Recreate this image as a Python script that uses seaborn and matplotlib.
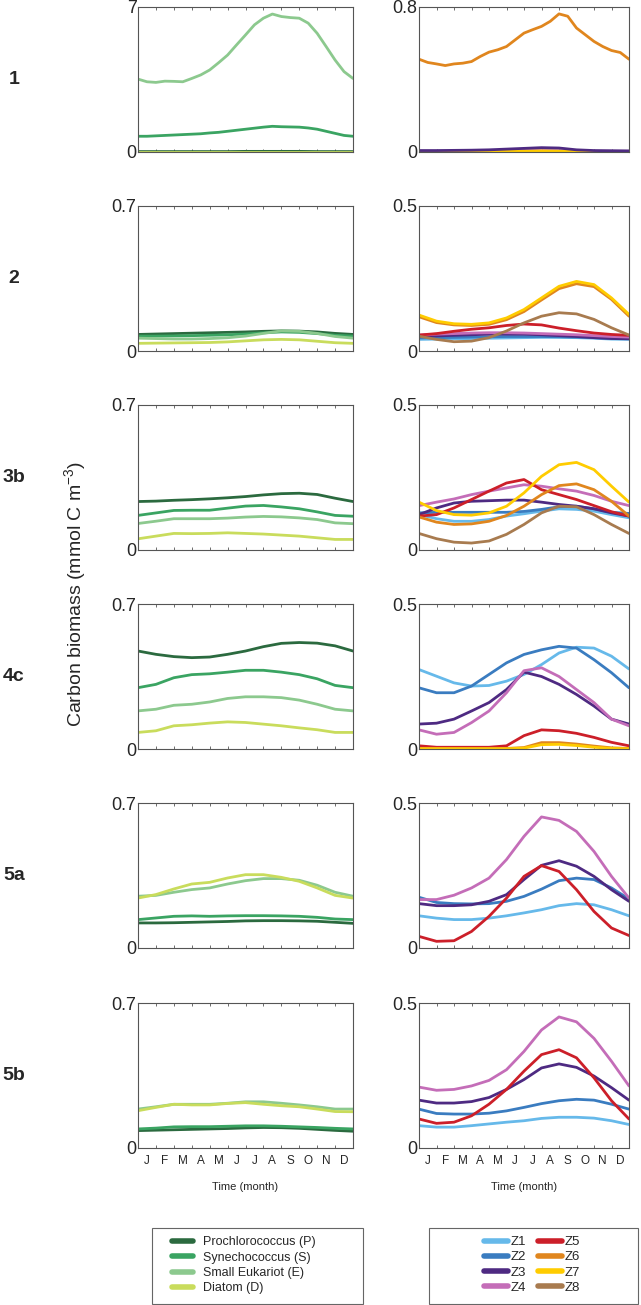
import numpy as np
import matplotlib
matplotlib.use("Agg")
import matplotlib.pyplot as plt
from matplotlib.lines import Line2D
from matplotlib.patches import Rectangle
import seaborn as sns

# ==========================================================
# DATA
# ==========================================================

months = np.arange(13)          # month boundaries J..D
half_months = np.arange(25) / 2  # finer sampling for row 1
month_labels = ["J", "F", "M", "A", "M", "J", "J", "A", "S", "O", "N", "D"]

phyto_names = ["Prochlorococcus (P)", "Synechococcus (S)", "Small Eukariot (E)", "Diatom (D)"]
phyto_colors = ["#2b6a3f", "#3aa462", "#8cc98e", "#c9dc5c"]

zoo_names = ["Z1", "Z2", "Z3", "Z4", "Z5", "Z6", "Z7", "Z8"]
zoo_colors = ["#66b9ea", "#3a7cc0", "#4e2a82", "#c46db8",
              "#cc1f29", "#e0861e", "#ffcc00", "#a87b4f"]

row_labels = ["1", "2", "3b", "4c", "5a", "5b"]
left_tops = [7, 0.7, 0.7, 0.7, 0.7, 0.7]
right_tops = [0.8, 0.5, 0.5, 0.5, 0.5, 0.5]

# ---- row 1 ----
r1_P = [0.02, 0.02, 0.02, 0.02, 0.02, 0.02, 0.03, 0.03, 0.03, 0.03, 0.02, 0.02, 0.02]
r1_S = [0.76, 0.76, 0.78, 0.80, 0.82, 0.84, 0.86, 0.88, 0.92, 0.95, 1.00, 1.05, 1.10,
        1.15, 1.20, 1.24, 1.22, 1.21, 1.20, 1.16, 1.10, 1.00, 0.90, 0.80, 0.76]
r1_E = [3.52, 3.39, 3.36, 3.42, 3.41, 3.39, 3.55, 3.72, 3.96, 4.31, 4.68, 5.17, 5.65,
        6.14, 6.46, 6.66, 6.54, 6.49, 6.46, 6.22, 5.73, 5.09, 4.44, 3.88, 3.55]
r1_D = [0.02, 0.02, 0.02, 0.02, 0.02, 0.02, 0.02, 0.02, 0.02, 0.02, 0.02, 0.02, 0.02]

r1_Z3 = [0.008, 0.008, 0.009, 0.010, 0.012, 0.016, 0.020, 0.024, 0.022, 0.012, 0.008, 0.007, 0.006]
r1_Z4 = [0.004, 0.004, 0.004, 0.005, 0.006, 0.007, 0.008, 0.008, 0.007, 0.005, 0.004, 0.004, 0.004]
r1_Z6 = [0.512, 0.494, 0.486, 0.477, 0.486, 0.490, 0.499, 0.527, 0.551, 0.564, 0.582, 0.619, 0.656,
         0.675, 0.693, 0.721, 0.762, 0.749, 0.684, 0.647, 0.610, 0.582, 0.560, 0.549, 0.512]
r1_Z7 = [0.002, 0.002, 0.002, 0.003, 0.003, 0.004, 0.005, 0.006, 0.005, 0.004, 0.003, 0.002, 0.002]
r1_Z8 = [0.001, 0.001, 0.001, 0.001, 0.001, 0.001, 0.001, 0.001, 0.001, 0.001, 0.001, 0.001, 0.001]

# ---- row 2 ----
r2_P = [0.080, 0.082, 0.084, 0.086, 0.088, 0.090, 0.092, 0.095, 0.097, 0.096, 0.092, 0.085, 0.080]
r2_S = [0.072, 0.072, 0.073, 0.074, 0.076, 0.078, 0.082, 0.088, 0.092, 0.090, 0.084, 0.076, 0.072]
r2_E = [0.062, 0.060, 0.058, 0.058, 0.060, 0.064, 0.072, 0.085, 0.097, 0.095, 0.085, 0.070, 0.062]
r2_D = [0.037, 0.038, 0.039, 0.040, 0.041, 0.044, 0.049, 0.054, 0.056, 0.054, 0.047, 0.040, 0.037]

r2_Z1 = [0.040, 0.041, 0.042, 0.043, 0.044, 0.045, 0.046, 0.047, 0.047, 0.046, 0.044, 0.041, 0.040]
r2_Z2 = [0.045, 0.046, 0.047, 0.048, 0.049, 0.050, 0.050, 0.050, 0.049, 0.048, 0.046, 0.044, 0.043]
r2_Z3 = [0.050, 0.052, 0.054, 0.056, 0.058, 0.058, 0.058, 0.056, 0.053, 0.050, 0.046, 0.043, 0.042]
r2_Z4 = [0.055, 0.058, 0.060, 0.062, 0.063, 0.063, 0.062, 0.060, 0.058, 0.056, 0.053, 0.050, 0.048]
r2_Z5 = [0.055, 0.060, 0.068, 0.075, 0.080, 0.088, 0.093, 0.090, 0.079, 0.070, 0.062, 0.057, 0.054]
r2_Z6 = [0.118, 0.098, 0.090, 0.088, 0.092, 0.108, 0.136, 0.176, 0.215, 0.232, 0.222, 0.178, 0.120]
r2_Z7 = [0.124, 0.103, 0.094, 0.092, 0.097, 0.114, 0.143, 0.183, 0.223, 0.240, 0.229, 0.183, 0.126]
r2_Z8 = [0.051, 0.040, 0.032, 0.034, 0.046, 0.069, 0.097, 0.120, 0.132, 0.128, 0.109, 0.080, 0.055]

# ---- row 3b ----
r3_P = [0.234, 0.236, 0.240, 0.243, 0.247, 0.252, 0.258, 0.266, 0.272, 0.274, 0.268, 0.250, 0.234]
r3_S = [0.167, 0.179, 0.191, 0.192, 0.192, 0.202, 0.212, 0.215, 0.208, 0.199, 0.184, 0.167, 0.163]
r3_E = [0.128, 0.139, 0.151, 0.151, 0.151, 0.154, 0.159, 0.162, 0.160, 0.155, 0.147, 0.131, 0.127]
r3_D = [0.054, 0.067, 0.080, 0.079, 0.080, 0.083, 0.080, 0.077, 0.072, 0.067, 0.059, 0.051, 0.051]

r3_Z1 = [0.122, 0.108, 0.099, 0.099, 0.105, 0.117, 0.125, 0.134, 0.142, 0.140, 0.134, 0.122, 0.111]
r3_Z2 = [0.128, 0.130, 0.130, 0.130, 0.130, 0.130, 0.133, 0.140, 0.149, 0.151, 0.142, 0.130, 0.126]
r3_Z3 = [0.122, 0.145, 0.162, 0.168, 0.170, 0.172, 0.172, 0.165, 0.157, 0.151, 0.142, 0.128, 0.117]
r3_Z4 = [0.153, 0.165, 0.176, 0.191, 0.203, 0.214, 0.225, 0.220, 0.211, 0.203, 0.188, 0.168, 0.153]
r3_Z5 = [0.117, 0.122, 0.145, 0.174, 0.203, 0.231, 0.243, 0.208, 0.191, 0.174, 0.153, 0.132, 0.117]
r3_Z6 = [0.114, 0.096, 0.088, 0.090, 0.099, 0.119, 0.151, 0.191, 0.222, 0.228, 0.208, 0.168, 0.117]
r3_Z7 = [0.165, 0.136, 0.122, 0.120, 0.128, 0.151, 0.197, 0.254, 0.294, 0.302, 0.277, 0.220, 0.165]
r3_Z8 = [0.057, 0.039, 0.027, 0.024, 0.031, 0.054, 0.088, 0.128, 0.151, 0.149, 0.122, 0.088, 0.057]

# ---- row 4c ----
r4_P = [0.473, 0.457, 0.446, 0.441, 0.444, 0.457, 0.473, 0.494, 0.510, 0.514, 0.511, 0.498, 0.473]
r4_S = [0.296, 0.312, 0.344, 0.359, 0.363, 0.371, 0.380, 0.380, 0.371, 0.359, 0.339, 0.307, 0.296]
r4_E = [0.184, 0.192, 0.211, 0.216, 0.227, 0.244, 0.252, 0.252, 0.248, 0.236, 0.216, 0.192, 0.184]
r4_D = [0.080, 0.088, 0.112, 0.117, 0.125, 0.131, 0.128, 0.120, 0.112, 0.102, 0.093, 0.080, 0.080]

r4_Z1 = [0.274, 0.251, 0.228, 0.217, 0.219, 0.234, 0.257, 0.291, 0.331, 0.351, 0.348, 0.320, 0.276]
r4_Z2 = [0.211, 0.194, 0.194, 0.217, 0.257, 0.297, 0.326, 0.342, 0.354, 0.348, 0.308, 0.263, 0.211]
r4_Z3 = [0.086, 0.089, 0.103, 0.131, 0.160, 0.205, 0.265, 0.250, 0.223, 0.188, 0.148, 0.103, 0.086]
r4_Z4 = [0.066, 0.051, 0.057, 0.091, 0.131, 0.194, 0.270, 0.280, 0.250, 0.205, 0.160, 0.103, 0.080]
r4_Z5 = [0.011, 0.006, 0.006, 0.006, 0.006, 0.011, 0.046, 0.066, 0.063, 0.054, 0.040, 0.023, 0.011]
r4_Z6 = [0.002, 0.002, 0.002, 0.002, 0.002, 0.002, 0.005, 0.022, 0.022, 0.017, 0.010, 0.004, 0.002]
r4_Z7 = [0.001, 0.001, 0.001, 0.001, 0.001, 0.001, 0.003, 0.015, 0.016, 0.012, 0.006, 0.002, 0.001]

# ---- row 5a ----
r5_P = [0.121, 0.121, 0.122, 0.124, 0.126, 0.128, 0.131, 0.132, 0.132, 0.131, 0.129, 0.124, 0.119]
r5_S = [0.137, 0.145, 0.153, 0.155, 0.153, 0.155, 0.156, 0.156, 0.155, 0.153, 0.148, 0.140, 0.137]
r5_E = [0.250, 0.254, 0.269, 0.282, 0.290, 0.309, 0.325, 0.335, 0.335, 0.327, 0.303, 0.269, 0.250]
r5_D = [0.241, 0.258, 0.285, 0.309, 0.317, 0.338, 0.354, 0.354, 0.341, 0.322, 0.290, 0.254, 0.241]

r5_Z1 = [0.111, 0.103, 0.098, 0.098, 0.103, 0.111, 0.121, 0.132, 0.146, 0.153, 0.149, 0.132, 0.111]
r5_Z2 = [0.175, 0.157, 0.153, 0.152, 0.153, 0.161, 0.178, 0.203, 0.232, 0.241, 0.236, 0.207, 0.169]
r5_Z3 = [0.153, 0.146, 0.146, 0.149, 0.161, 0.184, 0.236, 0.285, 0.301, 0.282, 0.247, 0.201, 0.161]
r5_Z4 = [0.167, 0.167, 0.182, 0.207, 0.241, 0.305, 0.385, 0.452, 0.440, 0.402, 0.333, 0.247, 0.172]
r5_Z5 = [0.040, 0.023, 0.025, 0.057, 0.109, 0.172, 0.247, 0.284, 0.264, 0.201, 0.126, 0.069, 0.043]

# ---- row 5b ----
r6_P = [0.084, 0.086, 0.088, 0.090, 0.092, 0.094, 0.097, 0.099, 0.098, 0.095, 0.090, 0.085, 0.081]
r6_S = [0.092, 0.096, 0.102, 0.103, 0.103, 0.105, 0.107, 0.107, 0.105, 0.102, 0.099, 0.095, 0.092]
r6_E = [0.188, 0.199, 0.211, 0.211, 0.211, 0.216, 0.223, 0.223, 0.216, 0.208, 0.199, 0.188, 0.188]
r6_D = [0.180, 0.196, 0.211, 0.208, 0.208, 0.215, 0.219, 0.211, 0.204, 0.199, 0.188, 0.176, 0.175]

r6_Z1 = [0.077, 0.072, 0.072, 0.077, 0.083, 0.089, 0.094, 0.102, 0.106, 0.106, 0.103, 0.094, 0.081]
r6_Z2 = [0.134, 0.119, 0.117, 0.117, 0.120, 0.128, 0.140, 0.153, 0.163, 0.168, 0.165, 0.151, 0.134]
r6_Z3 = [0.165, 0.155, 0.155, 0.160, 0.174, 0.202, 0.236, 0.276, 0.290, 0.278, 0.248, 0.208, 0.165]
r6_Z4 = [0.210, 0.199, 0.202, 0.214, 0.233, 0.270, 0.333, 0.407, 0.452, 0.435, 0.378, 0.299, 0.214]
r6_Z5 = [0.100, 0.085, 0.089, 0.111, 0.151, 0.202, 0.265, 0.322, 0.339, 0.311, 0.242, 0.163, 0.100]

# ==========================================================
# PANEL CONTENT (x values, y values, colour)
# ==========================================================

P, S, E, D = phyto_colors
Z1, Z2, Z3, Z4, Z5, Z6, Z7, Z8 = zoo_colors

left_series = [
    [(months, r1_P, P), (half_months, r1_S, S), (half_months, r1_E, E), (months, r1_D, D)],
    [(months, r2_P, P), (months, r2_S, S), (months, r2_E, E), (months, r2_D, D)],
    [(months, r3_P, P), (months, r3_S, S), (months, r3_E, E), (months, r3_D, D)],
    [(months, r4_P, P), (months, r4_S, S), (months, r4_E, E), (months, r4_D, D)],
    [(months, r5_P, P), (months, r5_S, S), (months, r5_E, E), (months, r5_D, D)],
    [(months, r6_P, P), (months, r6_S, S), (months, r6_E, E), (months, r6_D, D)],
]

right_series = [
    [(months, r1_Z8, Z8), (months, r1_Z4, Z4), (months, r1_Z7, Z7), (months, r1_Z3, Z3),
     (half_months, r1_Z6, Z6)],
    [(months, r2_Z1, Z1), (months, r2_Z2, Z2), (months, r2_Z3, Z3), (months, r2_Z4, Z4),
     (months, r2_Z5, Z5), (months, r2_Z8, Z8), (months, r2_Z6, Z6), (months, r2_Z7, Z7)],
    [(months, r3_Z1, Z1), (months, r3_Z2, Z2), (months, r3_Z3, Z3), (months, r3_Z4, Z4),
     (months, r3_Z5, Z5), (months, r3_Z6, Z6), (months, r3_Z7, Z7), (months, r3_Z8, Z8)],
    [(months, r4_Z1, Z1), (months, r4_Z2, Z2), (months, r4_Z3, Z3), (months, r4_Z4, Z4),
     (months, r4_Z5, Z5), (months, r4_Z6, Z6), (months, r4_Z7, Z7)],
    [(months, r5_Z1, Z1), (months, r5_Z2, Z2), (months, r5_Z3, Z3), (months, r5_Z4, Z4),
     (months, r5_Z5, Z5)],
    [(months, r6_Z1, Z1), (months, r6_Z2, Z2), (months, r6_Z3, Z3), (months, r6_Z4, Z4),
     (months, r6_Z5, Z5)],
]

# ==========================================================
# STYLE
# ==========================================================

sns.set_style("white")
plt.rcParams["font.family"] = ["Liberation Sans", "DejaVu Sans"]
plt.rcParams["mathtext.fontset"] = "custom"
plt.rcParams["mathtext.rm"] = "Liberation Sans"
plt.rcParams["mathtext.it"] = "Liberation Sans"

W, H = 641, 1305
fig = plt.figure(figsize=(W / 100, H / 100), dpi=100)
fig.patch.set_facecolor("white")

row_tops = [7, 206, 405, 604, 803, 1003]
panel_h = 145
left_x, left_w = 138, 215
right_x, right_w = 419, 210


def axes_at(x, y, w, h):
    return fig.add_axes([x / W, 1 - (y + h) / H, w / W, h / H])


def style_panel(ax, top, bottom_row):
    ax.set_xlim(0, 12)
    ax.set_ylim(0, top)
    ax.set_yticks([0, top])
    ax.set_yticklabels(["0", f"{top:g}"])
    ax.tick_params(axis="y", length=0, pad=1, labelsize=13)
    ax.set_xticks(range(1, 12))
    ax.set_xticklabels([])
    ax.tick_params(axis="x", which="major", direction="in", length=2.5,
                   width=0.6, color="#555555", top=True, bottom=True)
    if bottom_row:
        ax.set_xticks(months[:-1] + 0.5, minor=True)
        ax.set_xticklabels(month_labels, minor=True)
        ax.tick_params(axis="x", which="minor", length=0, pad=5, labelsize=8.5)
        ax.set_xlabel("Time (month)", fontsize=8, labelpad=11)
    for sp in ax.spines.values():
        sp.set_color("#555555")
        sp.set_linewidth(0.8)
    ax.set_ylabel("")


for i in range(6):
    last = i == 5
    axl = axes_at(left_x, row_tops[i], left_w, panel_h)
    for xs, ys, c in left_series[i]:
        sns.lineplot(x=xs, y=ys, color=c, lw=2, ax=axl, legend=False)
    style_panel(axl, left_tops[i], last)

    axr = axes_at(right_x, row_tops[i], right_w, panel_h)
    for xs, ys, c in right_series[i]:
        sns.lineplot(x=xs, y=ys, color=c, lw=2, ax=axr, legend=False)
    style_panel(axr, right_tops[i], last)

    fig.text(14 / W, 1 - (row_tops[i] + panel_h / 2) / H, row_labels[i],
             ha="center", va="center", fontsize=14, fontweight="bold")

fig.text(75 / W, 1 - 594 / H, "Carbon biomass (mmol C m$^{-3}$)",
         rotation=90, ha="center", va="center", fontsize=14)

# ==========================================================
# LEGENDS
# ==========================================================

for x0, x1 in [(152, 363), (429, 638)]:
    fig.add_artist(Rectangle((x0 / W, 1 - 1304 / H), (x1 - x0) / W, 76 / H,
                             transform=fig.transFigure, fill=False,
                             edgecolor="#666666", lw=0.8))

phyto_handles = [Line2D([], [], color=c, lw=4) for c in phyto_colors]
fig.legend(phyto_handles, phyto_names, loc="upper left",
           bbox_to_anchor=(172 / W, 1 - 1236 / H), frameon=False,
           fontsize=9, handlelength=1.7, handletextpad=0.8,
           labelspacing=0.28, borderpad=0, borderaxespad=0)

zoo_handles = [Line2D([], [], color=c, lw=4) for c in zoo_colors]
fig.legend(zoo_handles, zoo_names, loc="upper left", ncol=2,
           bbox_to_anchor=(484 / W, 1 - 1236 / H), frameon=False,
           fontsize=9.5, handlelength=1.8, handletextpad=0.2,
           columnspacing=0.9, labelspacing=0.22, borderpad=0, borderaxespad=0)

fig.savefig("out.png", dpi=100, facecolor="white")
